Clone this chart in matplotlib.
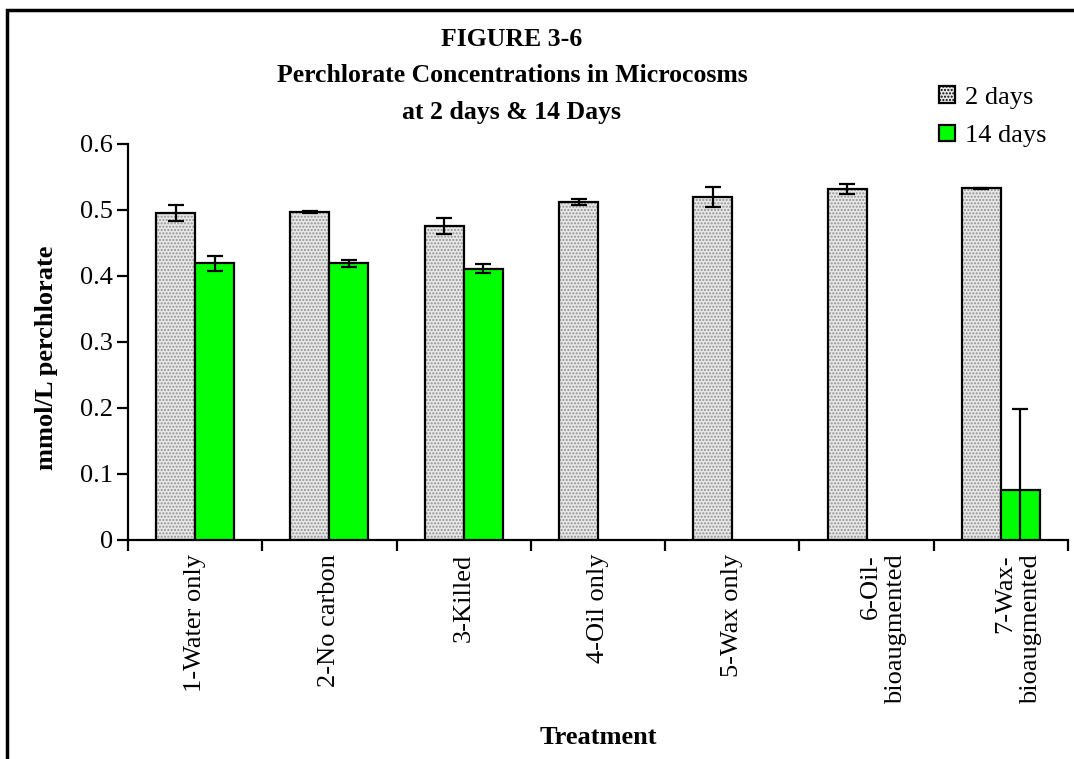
import numpy as np
import matplotlib
matplotlib.use('Agg')
import matplotlib.pyplot as plt
from matplotlib.patches import Patch, Rectangle
from matplotlib.transforms import ScaledTranslation

plt.rcParams['font.family'] = ['Liberation Serif', 'DejaVu Serif']

categories = ['1-Water only', '2-No carbon', '3-Killed', '4-Oil only',
              '5-Wax only', '6-Oil-\nbioaugmented', '7-Wax-\nbioaugmented']
day2 = [0.495, 0.497, 0.476, 0.512, 0.520, 0.532, 0.533]
day2_err = [0.012, 0.002, 0.012, 0.004, 0.015, 0.008, 0.001]
day14 = [0.419, 0.419, 0.411, np.nan, np.nan, np.nan, 0.076]
day14_err = [0.012, 0.006, 0.007, np.nan, np.nan, np.nan, 0.122]
series_labels = ['2 days', '14 days']
yticks = [0, 0.1, 0.2, 0.3, 0.4, 0.5, 0.6]

W, H = 1074, 759
fig = plt.figure(figsize=(W / 100, H / 100), dpi=100)
ax = fig.add_axes([128 / W, 1 - 540 / H, 940 / W, 396 / H])

x = np.arange(len(categories))
bw = 0.29
gray_face = '#e8e8e8'
hatch_col = '#909090'
green = '#00ff00'

# dotted gray bars: hatch layer, then black outline
ax.bar(x - bw / 2, day2, bw, facecolor=gray_face, edgecolor=hatch_col,
       hatch='.....', linewidth=0, zorder=2)
ax.bar(x - bw / 2, day2, bw, facecolor='none', edgecolor='black',
       linewidth=1.6, zorder=3)
ax.bar(x + bw / 2, day14, bw, facecolor=green, edgecolor='black',
       linewidth=1.6, zorder=3)

ax.errorbar(x - bw / 2, day2, yerr=day2_err, fmt='none', ecolor='black',
            elinewidth=1.6, capsize=5.5, capthick=1.6, zorder=4)
ax.errorbar(x + bw / 2, day14, yerr=day14_err, fmt='none', ecolor='black',
            elinewidth=1.6, capsize=5.5, capthick=1.6, zorder=4)

ax.set_xlim(-0.5, len(categories) - 0.5)
ax.set_ylim(0, 0.6)
ax.set_yticks(yticks)
ax.set_yticklabels([f'{v:g}' for v in yticks], fontsize=19)
ax.set_xticks(x)
ax.set_xticklabels(categories, rotation=90, fontsize=19, va='top',
                   ha='center', multialignment='right')
ax.set_xticks(np.arange(len(categories) + 1) - 0.5, minor=True)
ax.tick_params(axis='x', which='major', length=0, pad=10)
ax.tick_params(axis='x', which='minor', length=8, width=1.6, direction='out')
ax.tick_params(axis='y', length=8, width=1.6, direction='out', pad=3)

for lab in ax.get_xticklabels():
    if '\n' in lab.get_text():
        lab.set_transform(lab.get_transform() +
                          ScaledTranslation(0.17, 0, fig.dpi_scale_trans))

for side in ['top', 'right']:
    ax.spines[side].set_visible(False)
for side in ['left', 'bottom']:
    ax.spines[side].set_linewidth(1.6)

fig.text(46 / W, 1 - 358 / H, 'mmol/L perchlorate', rotation=90,
         fontsize=19, fontweight='bold', ha='center', va='center')
fig.text(598 / W, 1 - 738 / H, 'Treatment', fontsize=19,
         fontweight='bold', ha='center', va='center')

titles = ['FIGURE 3-6', 'Perchlorate Concentrations in Microcosms',
          'at 2 days & 14 Days']
for i, t in enumerate(titles):
    fig.text(512 / W, 1 - (40 + 36 * i) / H, t, fontsize=18.5,
             fontweight='bold', ha='center', va='center')

handles = [Patch(facecolor=gray_face, edgecolor='black', hatch='.....',
                 linewidth=1.6),
           Patch(facecolor=green, edgecolor='black', linewidth=1.6)]
fig.legend(handles, series_labels, loc='upper left',
           bbox_to_anchor=(939 / W, 1 - 86 / H), bbox_transform=fig.transFigure,
           frameon=False, fontsize=19, handlelength=0.6, handleheight=0.6,
           handletextpad=0.4, labelspacing=0.6, borderpad=0, borderaxespad=0)

# outer frame, cut off on the right and bottom like the original
fig.patches.append(Rectangle((7 / W, -0.1), 2, 1 - 10 / H + 0.1,
                             transform=fig.transFigure, fill=False,
                             linewidth=2.5, edgecolor='black'))

fig.savefig('out.png', dpi=100)
